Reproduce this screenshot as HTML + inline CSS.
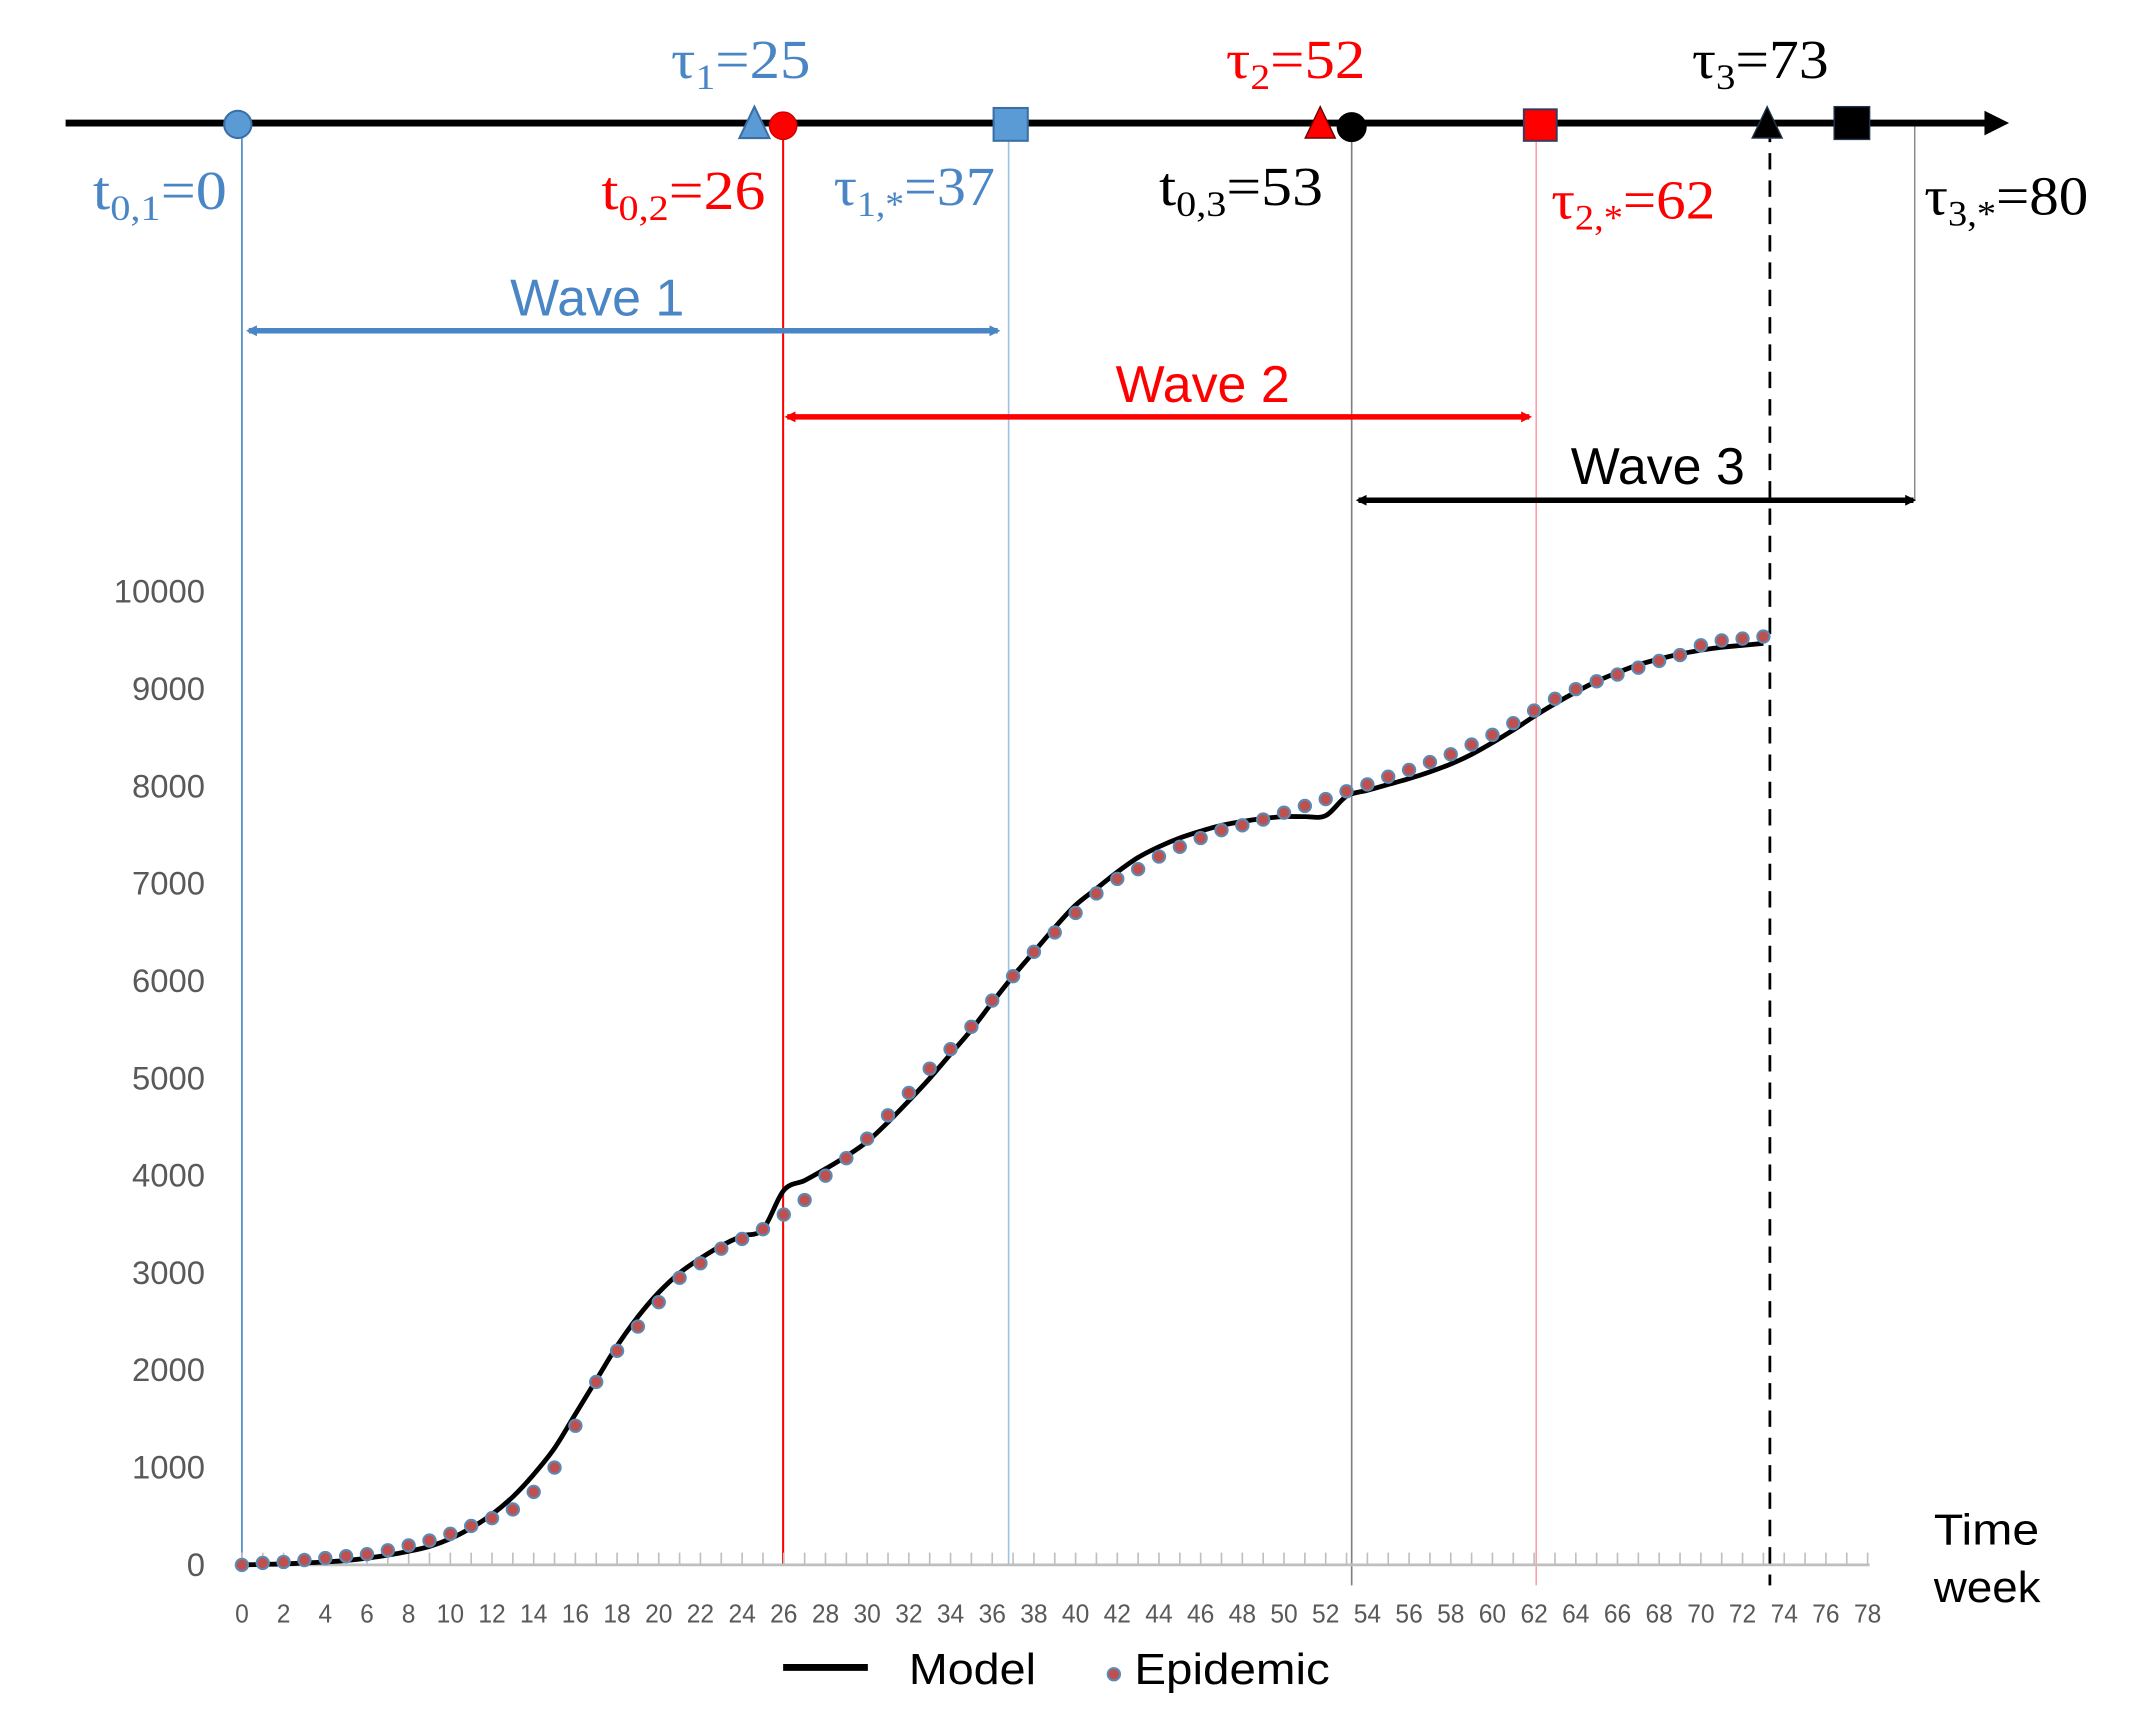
<!DOCTYPE html>
<html><head><meta charset="utf-8"><style>
html,body{margin:0;padding:0;background:#fff}
svg{display:block}
.ser{font-family:"Liberation Serif",serif}
.san{font-family:"Liberation Sans",sans-serif}
</style></head><body>
<svg id="chart" width="2143" height="1715" viewBox="0 0 1568 1254.8" xmlns="http://www.w3.org/2000/svg">
<defs>
<marker id="ab" markerWidth="8" markerHeight="8" refX="6" refY="4" orient="auto-start-reverse" markerUnits="userSpaceOnUse"><path d="M0,0 L8,4 L0,8 z" fill="#4a86c5"/></marker>
<marker id="ar" markerWidth="8" markerHeight="8" refX="6" refY="4" orient="auto-start-reverse" markerUnits="userSpaceOnUse"><path d="M0,0 L8,4 L0,8 z" fill="#ff0000"/></marker>
<marker id="ak" markerWidth="8" markerHeight="8" refX="6" refY="4" orient="auto-start-reverse" markerUnits="userSpaceOnUse"><path d="M0,0 L8,4 L0,8 z" fill="#000"/></marker>
</defs>
<g id="static">
<line x1="177" y1="92" x2="177" y2="1145" stroke="#4a86c5" stroke-width="1.2"/>
<line x1="573" y1="92" x2="573" y2="1145" stroke="#ff0000" stroke-width="1.5"/>
<line x1="738" y1="92" x2="738" y2="1145" stroke="#9fc3e6" stroke-width="1.2"/>
<line x1="989" y1="92" x2="989" y2="1160" stroke="#808080" stroke-width="1.2"/>
<line x1="1124" y1="92" x2="1124" y2="1160" stroke="#ff9090" stroke-width="1"/>
<line x1="1295" y1="92" x2="1295" y2="1160" stroke="#000" stroke-width="2" stroke-dasharray="12,8"/>
<line x1="1401" y1="92" x2="1401" y2="366" stroke="#808080" stroke-width="1"/>
<line x1="48" y1="90" x2="1460" y2="90" stroke="#000" stroke-width="5"/>
<path d="M1452,81 L1470,90 L1452,99 z" fill="#000"/>
<circle cx="174" cy="91" r="10" fill="#5b9bd5" stroke="#3a6ea5" stroke-width="1.5"/>
<path d="M552,78 L563,101 L541,101 z" fill="#5b9bd5" stroke="#3a6ea5" stroke-width="1.5"/>
<circle cx="573" cy="92" r="10" fill="#ff0000" stroke="#c00" stroke-width="1"/>
<rect x="727" y="79" width="25" height="24" fill="#5b9bd5" stroke="#3a6ea5" stroke-width="1.5"/>
<path d="M966,78 L977,101 L955,101 z" fill="#ff0000" stroke="#600" stroke-width="1"/>
<circle cx="989" cy="93" r="11" fill="#000"/>
<rect x="1115" y="80" width="24" height="23" fill="#ff0000" stroke="#3a3a5a" stroke-width="1.5"/>
<path d="M1293,78 L1304,101 L1282,101 z" fill="#000" stroke="#23364f" stroke-width="1"/>
<rect x="1342" y="78" width="26" height="24" fill="#000" stroke="#23364f" stroke-width="1"/>
<g class="ser" font-size="40">
<text x="491" y="57" fill="#4a86c5" textLength="102" lengthAdjust="spacingAndGlyphs">τ<tspan font-size="26" dy="8">1</tspan><tspan dy="-8">=25</tspan></text>
<text x="897" y="57" fill="#ff0000" textLength="102" lengthAdjust="spacingAndGlyphs">τ<tspan font-size="26" dy="8">2</tspan><tspan dy="-8">=52</tspan></text>
<text x="1238" y="57" fill="#000" textLength="100" lengthAdjust="spacingAndGlyphs">τ<tspan font-size="26" dy="8">3</tspan><tspan dy="-8">=73</tspan></text>
<text x="68" y="153" fill="#4a86c5" textLength="98" lengthAdjust="spacingAndGlyphs">t<tspan font-size="26" dy="8">0,1</tspan><tspan dy="-8">=0</tspan></text>
<text x="440" y="153" fill="#ff0000" textLength="120" lengthAdjust="spacingAndGlyphs">t<tspan font-size="26" dy="8">0,2</tspan><tspan dy="-8">=26</tspan></text>
<text x="610" y="150" fill="#4a86c5" textLength="118" lengthAdjust="spacingAndGlyphs">τ<tspan font-size="26" dy="8">1,*</tspan><tspan dy="-8">=37</tspan></text>
<text x="848" y="150" fill="#000" textLength="120" lengthAdjust="spacingAndGlyphs">t<tspan font-size="26" dy="8">0,3</tspan><tspan dy="-8">=53</tspan></text>
<text x="1135" y="160" fill="#ff0000" textLength="120" lengthAdjust="spacingAndGlyphs">τ<tspan font-size="26" dy="8">2,*</tspan><tspan dy="-8">=62</tspan></text>
<text x="1408" y="157" fill="#000" textLength="120" lengthAdjust="spacingAndGlyphs">τ<tspan font-size="26" dy="8">3,*</tspan><tspan dy="-8">=80</tspan></text>
</g>
<line x1="182" y1="242" x2="730" y2="242" stroke="#4a86c5" stroke-width="4" marker-start="url(#ab)" marker-end="url(#ab)"/>
<text class="san" x="437" y="231" font-size="38" fill="#4a86c5" text-anchor="middle">Wave 1</text>
<line x1="576" y1="305" x2="1119" y2="305" stroke="#ff0000" stroke-width="4" marker-start="url(#ar)" marker-end="url(#ar)"/>
<text class="san" x="880" y="294" font-size="38" fill="#ff0000" text-anchor="middle">Wave 2</text>
<line x1="994" y1="366" x2="1400" y2="366" stroke="#000" stroke-width="4" marker-start="url(#ak)" marker-end="url(#ak)"/>
<text class="san" x="1213" y="354" font-size="38" fill="#000" text-anchor="middle">Wave 3</text>
<text class="san" x="1415" y="1130" font-size="32" fill="#000" textLength="77" lengthAdjust="spacingAndGlyphs">Time</text>
<text class="san" x="1415" y="1172" font-size="32" fill="#000" textLength="78" lengthAdjust="spacingAndGlyphs">week</text>
<g>
<line x1="573" y1="1220" x2="635" y2="1220" stroke="#000" stroke-width="5"/>
<text class="san" x="665" y="1232" font-size="32" textLength="93" lengthAdjust="spacingAndGlyphs">Model</text>
<circle cx="815" cy="1225" r="4.5" fill="#c0504d" stroke="#5b8ab5" stroke-width="1.5"/>
<text class="san" x="830" y="1232" font-size="32" textLength="143" lengthAdjust="spacingAndGlyphs">Epidemic</text>
</g>
</g>
<g id="plot"></g>
</svg>
<script>
const weeks = Array.from({length:74},(_, i)=>i);
const epidemic = [0,20,30,50,70,90,110,150,200,250,320,400,480,570,750,1000,1430,1880,2200,2450,2700,2950,3100,3250,3350,3450,3600,3750,4000,4180,4380,4620,4850,5100,5300,5530,5800,6050,6300,6500,6700,6900,7050,7150,7280,7380,7470,7550,7600,7660,7730,7800,7870,7950,8020,8100,8170,8250,8330,8430,8530,8650,8780,8900,9000,9080,9150,9220,9290,9350,9450,9500,9520,9540];
const model = [0,5,10,20,30,45,70,100,140,190,270,380,520,700,930,1200,1550,1900,2250,2550,2800,3000,3150,3280,3380,3450,3850,3950,4070,4200,4350,4550,4770,5000,5250,5500,5780,6050,6300,6550,6780,6950,7120,7270,7380,7470,7540,7600,7640,7670,7690,7690,7700,7900,7960,8020,8080,8150,8230,8330,8450,8580,8720,8850,8970,9080,9170,9250,9310,9360,9400,9430,9450,9470];
const yTicks = [0,1000,2000,3000,4000,5000,6000,7000,8000,9000,10000];
const xTickLabels = Array.from({length:40},(_, i)=>i*2);

const NS='http://www.w3.org/2000/svg';
const X0=177, X1=1366.5, XMAX=78, Y0=1145, Y1=433, YMAX=10000;
const xs = w => X0 + (X1-X0)*w/XMAX;
const ys = v => Y0 - (Y0-Y1)*v/YMAX;
const g = document.getElementById('plot');
function mk(tag, attrs){const e=document.createElementNS(NS,tag);for(const k in attrs)e.setAttribute(k,attrs[k]);g.appendChild(e);return e;}

let ax = mk('line',{x1:X0,y1:Y0,x2:1368,y2:Y0,stroke:'#bfbfbf','stroke-width':2});


for(let w=0; w<=XMAX; w++){
  const t = mk('line',{x1:xs(w),y1:Y0,x2:xs(w),y2:Y0-9,stroke:'#bfbfbf','stroke-width':1.2});
  
  
}
xTickLabels.forEach(w=>{
  const t = mk('text',{x:xs(w),y:1187,'font-size':19,'text-anchor':'middle',fill:'#595959','font-family':'Liberation Sans, sans-serif',textLength:String(w).length>1?20:10,lengthAdjust:'spacingAndGlyphs'});
  t.textContent = w;
  
  
});
yTicks.forEach(v=>{
  const t = mk('text',{x:150,y:ys(v)+8,'font-size':24,'text-anchor':'end',fill:'#595959','font-family':'Liberation Sans, sans-serif'});
  t.textContent = v;
  
  
});

const pts = weeks.map((w,i)=>[xs(w), ys(model[i])]);
let d = 'M'+pts[0][0]+','+pts[0][1];
for(let i=0;i<pts.length-1;i++){
  const p0=pts[Math.max(0,i-1)], p1=pts[i], p2=pts[i+1], p3=pts[Math.min(pts.length-1,i+2)];
  const c1=[p1[0]+(p2[0]-p0[0])/6, p1[1]+(p2[1]-p0[1])/6];
  const c2=[p2[0]-(p3[0]-p1[0])/6, p2[1]-(p3[1]-p1[1])/6];
  d+=` C${c1[0]},${c1[1]} ${c2[0]},${c2[1]} ${p2[0]},${p2[1]}`;
}
const ml = mk('path',{d:d,fill:'none',stroke:'#000','stroke-width':3.5,'stroke-linejoin':'round'});



weeks.forEach((w,i)=>{
  const c = mk('circle',{cx:xs(w),cy:ys(epidemic[i]),r:4.5,fill:'#c0504d',stroke:'#5b8ab5','stroke-width':1.5});
  
  
});
</script>
</body></html>
